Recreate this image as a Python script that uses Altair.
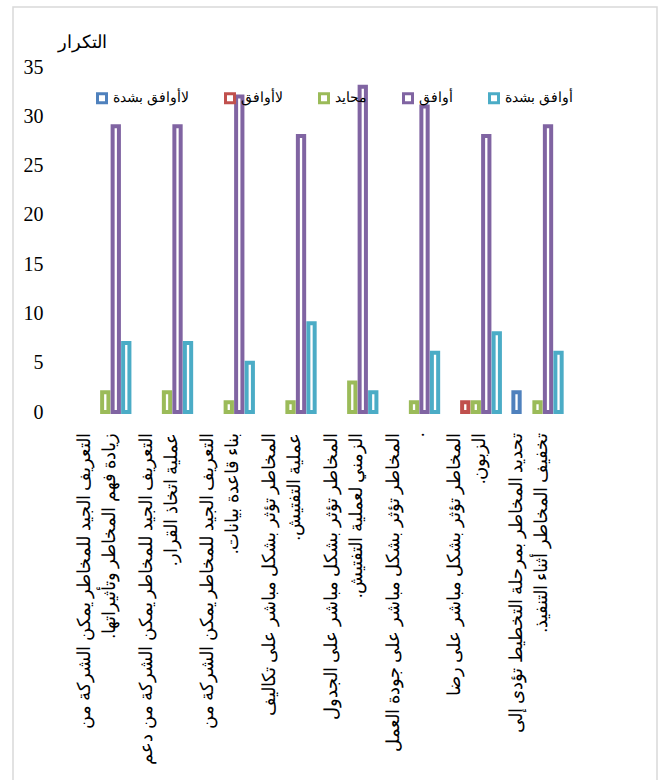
import altair as alt
import pandas as pd

categories = [
    "التعريف الجيد للمخاطر يمكن الشركة من\nزيادة فهم المخاطر وتأثيراتها.",
    "التعريف الجيد للمخاطر يمكن الشركة من دعم\nعملية اتخاذ القرار.",
    "التعريف الجيد للمخاطر يمكن الشركة من\nبناء قاعدة بيانات.",
    "المخاطر تؤثر بشكل مباشر على تكاليف\nعملية التفتيش.",
    "المخاطر تؤثر بشكل مباشر على الجدول\nالزمني لعملية التفتيش.",
    "المخاطر تؤثر بشكل مباشر على جودة العمل\n.",
    "المخاطر تؤثر بشكل مباشر على رضا\nالزبون.",
    "تحديد المخاطر بمرحلة التخطيط تؤدى إلى\nتخفيف المخاطر أثناء التنفيذ.",
]

series = ["لاأوافق بشدة", "لاأوافق", "محايد", "أوافق", "أوافق بشدة"]
colors = ["#4F81BD", "#C0504D", "#9BBB59", "#8064A2", "#4BACC6"]

strongly_disagree = [0, 0, 0, 0, 0, 0, 0, 2]
disagree = [0, 0, 0, 0, 0, 0, 1, 0]
neutral = [2, 2, 1, 1, 3, 1, 1, 1]
agree = [29, 29, 32, 28, 33, 31, 28, 29]
strongly_agree = [7, 7, 5, 9, 2, 6, 8, 6]

y_ticks = [0, 5, 10, 15, 20, 25, 30, 35]

# right-to-left mark after a period keeps it at the end of the Arabic line
display = [c.replace(".", ".\u200f") for c in categories]

values = [strongly_disagree, disagree, neutral, agree, strongly_agree]
rows = []
for s, vals in zip(series, values):
    for c, v in zip(display, vals):
        if v > 0:
            rows.append({"cat": c, "series": s, "value": v})
df = pd.DataFrame(rows)

FONT = "Liberation Serif"

frame = alt.Chart(alt.Data(values=[{}])).mark_rect(
    fill="transparent", stroke="#d9d9d9", strokeWidth=1.5
).encode(
    x=alt.value(-53), x2=alt.value(591), y=alt.value(-60), y2=alt.value(730)
)

bars = alt.Chart(df).mark_bar(
    fill="white", strokeWidth=4, width=alt.RelativeBandSize(0.6)
).encode(
    x=alt.X(
        "cat:N",
        sort=display,
        scale=alt.Scale(paddingInner=0.15, paddingOuter=0.075),
        axis=alt.Axis(
            title=None,
            labelAngle=270,
            labelExpr="split(datum.label, '\\n')",
            labelLimit=500,
            labelFontSize=18,
            labelLineHeight=25,
            labelPadding=20,
            labelOffset=-12,
            labelFont=FONT,
            labelColor="black",
            ticks=False,
            domain=False,
        ),
    ),
    xOffset=alt.XOffset("series:N", sort=series, scale=alt.Scale(domain=series, paddingInner=0, paddingOuter=0)),
    y=alt.Y(
        "value:Q",
        scale=alt.Scale(domain=[0, 35], nice=False),
        axis=alt.Axis(
            values=y_ticks,
            title="التكرار",
            titleAngle=0,
            titleX=16,
            titleY=-25,
            titleAlign="center",
            titleBaseline="middle",
            titleFont=FONT,
            titleFontSize=18,
            titleFontWeight="normal",
            titleColor="black",
            labelFont=FONT,
            labelFontSize=20,
            labelColor="black",
            labelPadding=23,
            ticks=False,
            domain=False,
            grid=False,
        ),
    ),
    stroke=alt.Stroke(
        "series:N",
        sort=series,
        scale=alt.Scale(domain=series, range=colors),
        legend=alt.Legend(
            title=None,
            orient="none",
            direction="horizontal",
            legendX=29,
            legendY=24,
            symbolType="square",
            symbolSize=81,
            symbolStrokeWidth=3,
            symbolFillColor="white",
            labelFont=FONT,
            labelFontSize=14,
            labelColor="black",
            labelOffset=4,
            columnPadding=30,
            zindex=0,
        ),
    ),
)

chart = alt.layer(frame, bars).properties(
    width=494,
    height=345,
    padding={"left": 66, "top": 67, "right": 100, "bottom": 368},
    autosize=alt.AutoSizeParams(type="none"),
    background="white",
).configure_view(stroke=None)

chart.save("out.html", embed_options={"renderer": "svg", "actions": False})
